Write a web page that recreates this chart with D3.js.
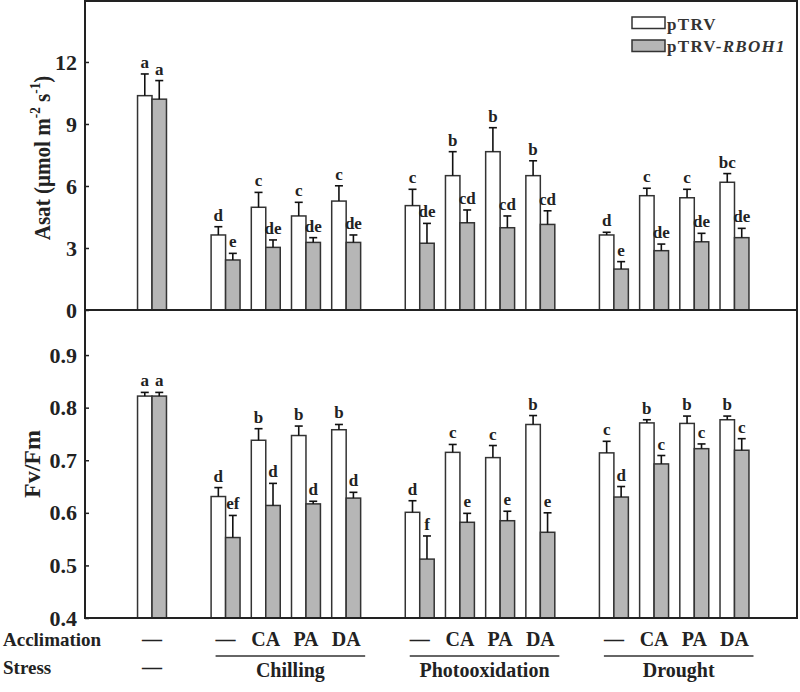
<!DOCTYPE html>
<html><head><meta charset="utf-8">
<script src="https://cdn.jsdelivr.net/npm/d3@7"></script>
<style>
html,body{margin:0;padding:0;background:#fff;}
svg{display:block;font-family:"Liberation Serif","Times New Roman",serif;}
</style></head>
<body><div id="chart"></div>
<script>
// ---- data ----
const stresses = ["—", "Chilling", "Photooxidation", "Drought"];
const catStress = ["—","Chilling","Chilling","Chilling","Chilling","Photooxidation","Photooxidation","Photooxidation","Photooxidation","Drought","Drought","Drought","Drought"];
const catAccl = ["—","—","CA","PA","DA","—","CA","PA","DA","—","CA","PA","DA"];
const seriesNames = ["pTRV", "pTRV-RBOH1"];

const asatTRV    = [10.37, 3.63, 4.97, 4.55, 5.27, 5.05, 6.50, 7.66, 6.50, 3.63, 5.53, 5.43, 6.18];
const asatTRVErr = [1.05, 0.40, 0.72, 0.66, 0.74, 0.79, 1.16, 1.16, 0.72, 0.13, 0.36, 0.41, 0.42];
const asatRB     = [10.20, 2.42, 3.03, 3.27, 3.27, 3.23, 4.22, 3.98, 4.14, 1.98, 2.87, 3.30, 3.50];
const asatRBErr  = [0.90, 0.32, 0.36, 0.23, 0.36, 0.96, 0.62, 0.57, 0.66, 0.36, 0.32, 0.41, 0.45];
const asatTRVLet = ["a","d","c","c","c","c","b","b","b","d","c","c","bc"];
const asatRBLet  = ["a","e","de","de","de","de","cd","cd","cd","e","de","de","de"];

const fvTRV    = [0.822, 0.631, 0.738, 0.747, 0.758, 0.601, 0.715, 0.705, 0.768, 0.714, 0.771, 0.770, 0.777];
const fvTRVErr = [0.007, 0.017, 0.022, 0.018, 0.010, 0.022, 0.015, 0.023, 0.017, 0.022, 0.006, 0.014, 0.007];
const fvRB     = [0.822, 0.553, 0.614, 0.617, 0.628, 0.512, 0.582, 0.585, 0.563, 0.630, 0.693, 0.722, 0.719];
const fvRBErr  = [0.007, 0.042, 0.042, 0.005, 0.011, 0.044, 0.017, 0.018, 0.037, 0.020, 0.016, 0.009, 0.022];
const fvTRVLet = ["a","d","b","b","b","d","c","c","b","c","b","b","b"];
const fvRBLet  = ["a","ef","d","d","d","f","e","e","e","d","c","c","c"];

const asatTicks = [0, 3, 6, 9, 12];
const fvTicks = [0.4, 0.5, 0.6, 0.7, 0.8, 0.9];

// ---- layout ----
const W = 800, H = 692;
const L = 85, R = 797, T = 1, MID = 310, B = 618;
const GAP = 0.83, BARW = 0.36;
const svg = d3.select("#chart").append("svg").attr("width", W).attr("height", H);

const x = d3.scaleLinear().domain([-1.667, 16.045]).range([L, R]);
const slot = i => {
  const g = stresses.indexOf(catStress[i]);
  return i + g * GAP;
};
const bw = x(BARW) - x(0);

const yA = d3.scaleLinear().domain([0, 14.95]).range([MID, T]);
const yF = d3.scaleLinear().domain([0.4, 0.9857]).range([B, MID]);

const GRAY = "#b6b6b6", STROKE = "#333";

function panel(y, base, s1, e1, s2, e2, l1, l2) {
  const g = svg.append("g");
  const series = [
    {vals: s1, errs: e1, lets: l1, fill: "#fff", off: -1},
    {vals: s2, errs: e2, lets: l2, fill: GRAY, off: 0}
  ];
  series.forEach(s => {
    const gg = g.append("g");
    const data = s.vals.map((v, i) => ({v, e: s.errs[i], t: s.lets[i], p: slot(i)}));
    gg.selectAll("rect").data(data).join("rect")
      .attr("x", d => x(d.p) + s.off * bw)
      .attr("y", d => y(d.v))
      .attr("width", bw)
      .attr("height", d => y(base) - y(d.v))
      .attr("fill", s.fill).attr("stroke", STROKE).attr("stroke-width", 1.5);
    const cx = d => x(d.p) + s.off * bw + bw / 2;
    gg.selectAll("line.eb").data(data).join("line").attr("class", "eb")
      .attr("x1", cx).attr("x2", cx)
      .attr("y1", d => y(d.v)).attr("y2", d => y(d.v + d.e))
      .attr("stroke", "#111").attr("stroke-width", 1.6);
    gg.selectAll("line.cap").data(data).join("line").attr("class", "cap")
      .attr("x1", d => cx(d) - 4).attr("x2", d => cx(d) + 4)
      .attr("y1", d => y(d.v + d.e)).attr("y2", d => y(d.v + d.e))
      .attr("stroke", "#111").attr("stroke-width", 1.6);
    gg.selectAll("text").data(data).join("text")
      .attr("x", cx).attr("y", d => y(d.v + d.e) - 6)
      .attr("text-anchor", "middle")
      .attr("font-size", 17).attr("font-weight", "bold").attr("fill", "#222")
      .text(d => d.t);
  });
}

panel(yA, 0, asatTRV, asatTRVErr, asatRB, asatRBErr, asatTRVLet, asatRBLet);
panel(yF, 0.4, fvTRV, fvTRVErr, fvRB, fvRBErr, fvTRVLet, fvRBLet);

// axes
function styleAxis(g) {
  g.select(".domain").remove();
  g.selectAll(".tick line").attr("stroke", "#222").attr("stroke-width", 1.5);
  g.selectAll(".tick text").attr("font-size", 22).attr("font-weight", "bold")
    .attr("fill", "#222").attr("font-family", "Liberation Serif, serif");
}
svg.append("g").attr("transform", `translate(${L},0)`)
  .call(d3.axisLeft(yA).tickValues(asatTicks).tickFormat(d3.format("d")).tickSizeInner(-4).tickSizeOuter(0).tickPadding(8))
  .call(styleAxis);
svg.append("g").attr("transform", `translate(${L},0)`)
  .call(d3.axisLeft(yF).tickValues(fvTicks).tickFormat(d3.format(".1f")).tickSizeInner(-4).tickSizeOuter(0).tickPadding(8))
  .call(styleAxis);

// frame
const frame = svg.append("g").attr("fill", "none").attr("stroke", "#222").attr("stroke-width", 2);
frame.append("rect").attr("x", L).attr("y", T).attr("width", R - L).attr("height", MID - T);
frame.append("rect").attr("x", L).attr("y", MID).attr("width", R - L).attr("height", B - MID);

// axis titles
const t1 = svg.append("text").attr("transform", `translate(50,158) rotate(-90) scale(0.88,1)`)
  .attr("text-anchor", "middle").attr("font-size", 24).attr("font-weight", "bold").attr("fill", "#222");
t1.append("tspan").text("Asat (μmol m");
t1.append("tspan").attr("font-size", 15).attr("dy", -10).text("-2");
t1.append("tspan").attr("dy", 10).text(" s");
t1.append("tspan").attr("font-size", 15).attr("dy", -10).text("-1");
t1.append("tspan").attr("dy", 10).text(")");

svg.append("text").attr("transform", `translate(40,${(MID + B) / 2}) rotate(-90)`)
  .attr("text-anchor", "middle").attr("font-size", 24).attr("font-weight", "bold").attr("fill", "#222")
  .text("Fv/Fm");

// legend
const leg = svg.append("g");
[0, 1].forEach(k => {
  leg.append("rect").attr("x", 632).attr("y", 17 + k * 23).attr("width", 33).attr("height", 11.5)
    .attr("fill", k ? GRAY : "#fff").attr("stroke", STROKE).attr("stroke-width", 1.5);
});
leg.append("text").attr("x", 667).attr("y", 30).attr("font-size", 17).attr("font-weight", "bold")
  .attr("letter-spacing", 1.3).attr("fill", "#333").text(seriesNames[0]);
const lt = leg.append("text").attr("x", 667).attr("y", 52).attr("font-size", 17).attr("font-weight", "bold")
  .attr("letter-spacing", 1.3).attr("fill", "#333");
lt.append("tspan").text("pTRV-");
lt.append("tspan").attr("font-style", "italic").text("RBOH1");

// category labels
const lab = svg.append("g").attr("font-size", 20).attr("font-weight", "bold").attr("fill", "#222");
lab.append("text").attr("x", 3).attr("y", 646).attr("font-size", 19).text("Acclimation");
lab.append("text").attr("x", 3).attr("y", 674).attr("font-size", 19).text("Stress");
catAccl.forEach((a, i) => {
  lab.append("text").attr("x", x(slot(i))).attr("y", 646).attr("text-anchor", "middle").text(a);
});
stresses.forEach((s, g) => {
  const idx = catStress.map((c, i) => c === s ? i : -1).filter(i => i >= 0);
  const x0 = x(slot(idx[0])), x1 = x(slot(idx[idx.length - 1]));
  if (idx.length === 1) {
    lab.append("text").attr("x", x0).attr("y", 674).attr("text-anchor", "middle").text(s);
  } else {
    const a = x0 - 10, b = x1 + 19;
    lab.append("line").attr("x1", a).attr("x2", b).attr("y1", 656).attr("y2", 656)
      .attr("stroke", "#333").attr("stroke-width", 1.5);
    lab.append("text").attr("x", (a + b) / 2).attr("y", 677).attr("text-anchor", "middle").text(s);
  }
});
</script></body></html>
